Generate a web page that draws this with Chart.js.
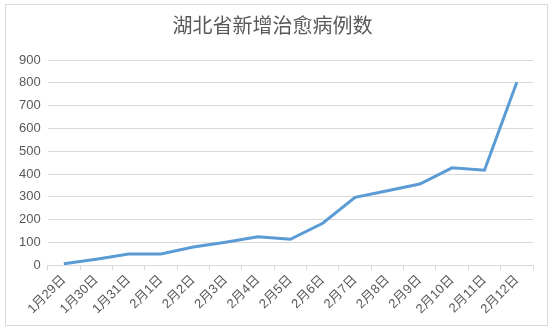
<!DOCTYPE html>
<html>
<head>
<meta charset="utf-8">
<script src="https://cdn.jsdelivr.net/npm/chart.js@4/dist/chart.umd.min.js"></script>
<style>
  body { margin: 0; background: #fff; }
  #wrap {
    position: absolute; left: 5px; top: 4px;
    width: 543px; height: 322px;
    border: 1px solid #d9d9d9; box-sizing: border-box;
  }
</style>
</head>
<body>
<div id="wrap"><canvas id="chart"></canvas></div>
<script>
// 日期与湖北省每日新增治愈病例
const dates = ['1月29日', '1月30日', '1月31日', '2月1日', '2月2日', '2月3日', '2月4日', '2月5日',
               '2月6日', '2月7日', '2月8日', '2月9日', '2月10日', '2月11日', '2月12日'];
const cured = [7, 26, 49, 49, 80, 101, 125, 114, 184, 298, 327, 356, 427, 417, 802];
const yTicks = [0, 100, 200, 300, 400, 500, 600, 700, 800, 900];

const fontFam = '"Liberation Sans", "Noto Sans CJK SC", sans-serif';

new Chart(document.getElementById('chart'), {
  type: 'line',
  data: {
    labels: dates,
    datasets: [{
      label: '新增治愈',
      data: cured,
      borderColor: '#5b9bd5',
      borderWidth: 3,
      pointRadius: 0,
      tension: 0,
      fill: false
    }]
  },
  options: {
    responsive: true,
    maintainAspectRatio: false,
    animation: false,
    layout: { padding: { left: 6, right: 14, top: 4, bottom: 6 } },
    plugins: {
      legend: { display: false },
      tooltip: { enabled: false },
      title: {
        display: true,
        text: '湖北省新增治愈病例数',
        color: '#595959',
        font: { family: '"Noto Sans CJK SC", sans-serif', size: 20, weight: 'normal' },
        padding: { top: 4, bottom: 23 }
      }
    },
    scales: {
      x: {
        offset: true,
        grid: { offset: true, drawOnChartArea: false, drawTicks: true, tickLength: 5, color: '#d9d9d9' },
        border: { color: '#d9d9d9' },
        ticks: {
          color: '#595959',
          minRotation: 45, maxRotation: 45,
          padding: 2,
          font: { family: fontFam, size: 13 }
        }
      },
      y: {
        min: 0, max: 900,
        afterBuildTicks: axis => { axis.ticks = yTicks.map(v => ({ value: v })); },
        grid: { color: '#d9d9d9', drawTicks: false },
        border: { display: false },
        ticks: {
          color: '#595959',
          padding: 7,
          font: { family: fontFam, size: 13 }
        }
      }
    }
  }
});
</script>
</body>
</html>
